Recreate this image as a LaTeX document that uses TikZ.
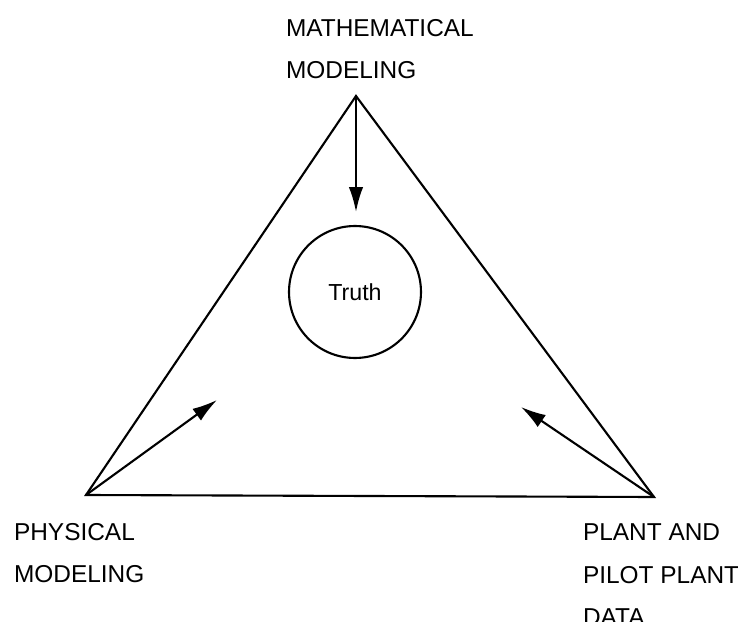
\documentclass[tikz,border=0pt]{standalone}
\usepackage{fontspec}
\setmainfont{Liberation Sans}
\usetikzlibrary{arrows.meta}
\tikzset{
    corner/.style={anchor=north west, inner sep=0pt, align=left, font=\fontsize{13.9}{24}\selectfont},
    arr/.style={-{Latex[length=0.5cm, width=0.29cm]}, line width=1.2pt}
}

\begin{document}
\begin{tikzpicture}[x=0.02cm, y=-0.02cm, line width=1.2pt]
        \useasboundingbox (0,0) rectangle (738,622);

        % --- Corners of the triangle ---
        \coordinate (math) at (356, 96);
        \coordinate (phys) at (86, 495);
        \coordinate (plant) at (654, 497);

        \draw (math) -- (phys) -- (plant) -- cycle;

        % --- Centre ---
        \node [draw, circle, minimum size=2.64cm, font=\fontsize{13.2}{15}\selectfont] (truth) at (355, 292) {Truth};

        % --- Arrow ends ---
        \coordinate (mathend) at (356, 212);
        \coordinate (physend) at (217, 400);
        \coordinate (plantend) at (521, 407);

        \draw [arr] (math) -- (mathend);
        \draw [arr] (phys) -- (physend);
        \draw [arr] (plant) -- (plantend);

        % --- Labels ---
        \node [corner] (mathlabel) at (285, 18) {MATHEMATICAL\\MODELING};
        \node [corner] (physlabel) at (13, 522) {PHYSICAL\\MODELING};
        \node [corner] (plantlabel) at (582, 523) {PLANT AND\\PILOT PLANT\\DATA};

    \end{tikzpicture}
\end{document}
